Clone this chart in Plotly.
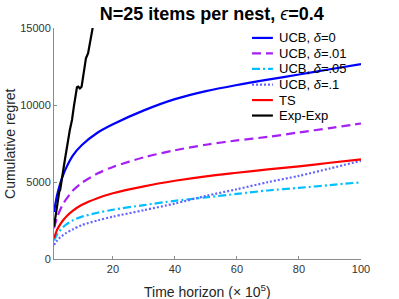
import plotly.graph_objects as go

# ---- data ----
horizon = [1, 2, 3, 4, 5, 7, 10, 15, 20, 30, 40, 50, 60, 70, 80, 90, 100]
ucb_d0 = [3050, 4150, 4900, 5480, 5950, 6700, 7400, 8200, 8750, 9650, 10380, 10900, 11300, 11650, 11980, 12320, 12650]
ucb_d01 = [2000, 2700, 3200, 3600, 3900, 4430, 4950, 5550, 5980, 6600, 7060, 7420, 7700, 7930, 8220, 8500, 8800]
ucb_d05 = [1200, 1600, 1870, 2080, 2250, 2500, 2750, 3000, 3200, 3500, 3780, 4000, 4230, 4450, 4620, 4800, 4980]
ucb_d1 = [910, 1200, 1400, 1560, 1700, 1920, 2200, 2500, 2750, 3170, 3600, 4100, 4530, 4990, 5400, 5880, 6380]
ts = [1340, 1900, 2250, 2530, 2760, 3120, 3520, 3950, 4270, 4720, 5080, 5370, 5600, 5820, 6020, 6250, 6470]

expexp_horizon = [1, 1.4, 1.8, 2.4, 2.7, 3.0, 3.4, 4.5, 6.1, 6.8, 7.4, 8.06, 8.4, 8.8, 9.35, 9.9, 10.4, 11.3, 12.0, 13.4, 14]
expexp = [2100, 2600, 3400, 4150, 4370, 4500, 4950, 6430, 8380, 9030, 9890, 10970, 11150, 11190, 11080, 11190, 11950, 13030, 13360, 15200, 15600]

series_names = ["UCB, <i>δ</i>=0", "UCB, <i>δ</i>=.01", "UCB, <i>δ</i>=.05", "UCB, <i>δ</i>=.1", "TS", "Exp-Exp"]
x_ticks = [20, 40, 60, 80, 100]
y_ticks = [0, 5000, 10000, 15000]

# ---- styles ----
styles = [
    dict(color="#0000ff", width=2.2, dash="solid"),
    dict(color="#a61ff5", width=2.2, dash="9px,5px"),
    dict(color="#00bfff", width=2.2, dash="8px,3px,2px,3px"),
    dict(color="#6464ff", width=2.2, dash="2px,2px"),
    dict(color="#ff0000", width=2.2, dash="solid"),
    dict(color="#000000", width=2.2, dash="solid"),
]
ys = [ucb_d0, ucb_d01, ucb_d05, ucb_d1, ts]

FONT = "Liberation Sans, Arial, Helvetica, sans-serif"
fig = go.Figure()
for name, y, st in zip(series_names[:5], ys, styles[:5]):
    fig.add_trace(go.Scatter(x=horizon, y=y, mode="lines", name=name,
                             line=dict(color=st["color"], width=st["width"], dash=st["dash"],
                                       shape="spline", smoothing=0.8),
                             showlegend=False))
fig.add_trace(go.Scatter(x=expexp_horizon, y=expexp, mode="lines", name=series_names[5],
                         line=dict(color=styles[5]["color"], width=styles[5]["width"]),
                         showlegend=False))

# manual legend (compact, like the reference)
row_y = [0.957, 0.890, 0.823, 0.755, 0.688, 0.621]
for name, st, yy in zip(series_names, styles, row_y):
    fig.add_shape(type="line", xref="paper", yref="paper", x0=0.645, x1=0.713, y0=yy, y1=yy,
                  line=dict(color=st["color"], width=st["width"], dash=st["dash"]))
    fig.add_annotation(xref="paper", yref="paper", x=0.726, y=yy, text=name, showarrow=False,
                       xanchor="left", yanchor="middle", font=dict(family=FONT, size=13, color="#000"))

# axis titles
fig.add_annotation(xref="paper", yref="paper", x=-0.145, y=0.5, text="Cumulative regret",
                   textangle=-90, showarrow=False, xanchor="center", yanchor="middle",
                   font=dict(family=FONT, size=14, color="#262626"))
fig.add_annotation(xref="paper", yref="paper", x=0.5, y=-0.138, text="Time horizon (× 10<sup>5</sup>)",
                   showarrow=False, xanchor="center", yanchor="middle",
                   font=dict(family=FONT, size=14, color="#262626"))

axis_common = dict(showgrid=False, zeroline=False, showline=True, linecolor="#8c8c8c", linewidth=1,
                   ticks="inside", ticklen=3, tickcolor="#8c8c8c", mirror=False,
                   tickfont=dict(family=FONT, size=11, color="#333333"))
fig.update_layout(
    width=399, height=299,
    margin=dict(l=54, r=38, t=28, b=40),
    paper_bgcolor="white", plot_bgcolor="white",
    title=dict(text="<b>N=25 items per nest, </b><i>ϵ</i><b>=0.4</b>", x=0.5306, xanchor="center",
               y=0.955, yanchor="middle", font=dict(family=FONT, size=18, color="#000")),
    xaxis=dict(range=[1, 100], tickvals=x_ticks, automargin=False, **axis_common),
    yaxis=dict(range=[0, 15000], tickvals=y_ticks, tickformat="d", automargin=False, **axis_common),
)
# remove the default 8px page margin so the figure sits at the window's corner
fig.write_html("out.html", config={"displayModeBar": False},
               post_script="document.body.style.margin='0px';")
